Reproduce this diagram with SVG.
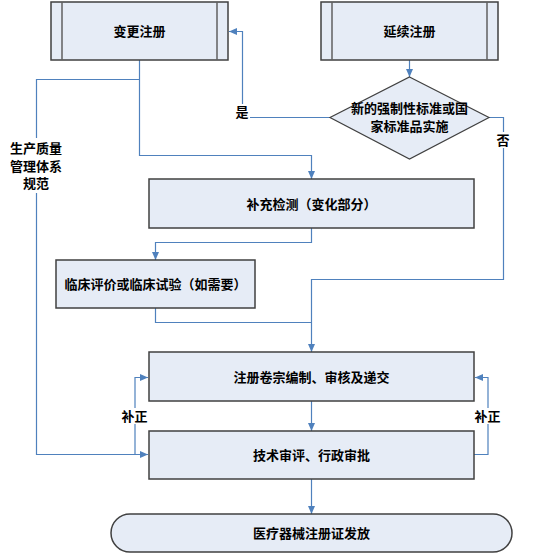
<svg xmlns="http://www.w3.org/2000/svg" width="540" height="555" viewBox="0 0 540 555">
<defs>
<marker id="arr" markerUnits="userSpaceOnUse" markerWidth="8" markerHeight="7" refX="8" refY="3.5" orient="auto">
<path d="M0,0 L8,3.5 L0,7 z" fill="#4f81bd"/>
</marker>
<style>
.box{fill:#e6ecf6;stroke:#404040;stroke-width:1.5}
.sub{stroke:#606060;stroke-width:1.5}
.t{font-family:"Liberation Serif","Noto Sans CJK SC",serif;font-size:13px;font-weight:bold;fill:#000;text-anchor:middle;dominant-baseline:central}
.c{fill:none;stroke:#4f81bd;stroke-width:1.2}
.a{marker-end:url(#arr)}
.bg{fill:#fff}
</style>
</defs>
<rect width="540" height="555" fill="#fff"/>
<g id="connectors">
<path class="c a" d="M409.5,60 V77"/>
<path class="c a" d="M330,117.5 H242.5 V31.5 H229"/>
<path class="c a" d="M489,117.5 H503.5 V279.5 H311.5 V352"/>
<path class="c" d="M155.5,308 V322.5 H311.5"/>
<path class="c a" d="M139.5,60 V155.5 H311.5 V179"/>
<path class="c a" d="M139.5,79.5 H36.5 V454.5 H148"/>
<path class="c a" d="M311.5,228 V242.5 H155.5 V260"/>
<path class="c a" d="M311.5,401 V431"/>
<path class="c a" d="M311.5,479 V514"/>
<path class="c a" d="M135,454.5 V377.5 H148"/>
<path class="c a" d="M474,454.5 H488 V377.5 H475"/>
</g>
<g id="label-yes"><rect class="bg" x="234" y="104" width="16" height="16"/><text class="t" x="242" y="112">是</text></g>
<g id="label-no"><rect class="bg" x="495" y="132" width="16" height="16"/><text class="t" x="503" y="140">否</text></g>
<g id="label-gmp"><rect class="bg" x="8" y="138" width="56" height="55"/>
<text class="t" x="36" y="148">生产质量</text><text class="t" x="36" y="166">管理体系</text><text class="t" x="36" y="183.5">规范</text></g>
<g id="label-fix-left"><rect class="bg" x="121" y="408" width="27" height="16"/><text class="t" x="134.5" y="416">补正</text></g>
<g id="label-fix-right"><rect class="bg" x="474" y="408" width="27" height="16"/><text class="t" x="487.5" y="416">补正</text></g>
<g id="change-reg">
<rect class="box" x="51" y="2" width="177" height="58"/>
<line class="sub" x1="62" y1="2" x2="62" y2="60"/><line class="sub" x1="217" y1="2" x2="217" y2="60"/>
<text class="t" x="139.5" y="31.5">变更注册</text>
</g>
<g id="renew-reg">
<rect class="box" x="321" y="2" width="177" height="58"/>
<line class="sub" x1="332" y1="2" x2="332" y2="60"/><line class="sub" x1="487" y1="2" x2="487" y2="60"/>
<text class="t" x="409.5" y="31.5">延续注册</text>
</g>
<g id="decision">
<polygon points="409.5,77 489,117.5 409.5,159 330,117.5" fill="#e6ecf6" stroke="#404040" stroke-width="1.2"/>
<text class="t" x="409.5" y="108">新的强制性标准或国</text>
<text class="t" x="409.5" y="126">家标准品实施</text>
</g>
<g id="supp-test">
<rect class="box" x="149" y="179" width="325" height="49"/>
<text class="t" x="311.5" y="204">补充检测（变化部分）</text>
</g>
<g id="clinical">
<rect class="box" x="56" y="260" width="199" height="48"/>
<text class="t" x="155.5" y="284">临床评价或临床试验（如需要）</text>
</g>
<g id="dossier">
<rect class="box" x="149" y="352" width="325" height="49"/>
<text class="t" x="311.5" y="377">注册卷宗编制、审核及递交</text>
</g>
<g id="review">
<rect class="box" x="149" y="431" width="325" height="48"/>
<text class="t" x="311.5" y="455">技术审评、行政审批</text>
</g>
<g id="issue">
<rect class="box" x="111" y="514" width="401" height="38" rx="19" ry="19"/>
<text class="t" x="311.5" y="533">医疗器械注册证发放</text>
</g>
</svg>
